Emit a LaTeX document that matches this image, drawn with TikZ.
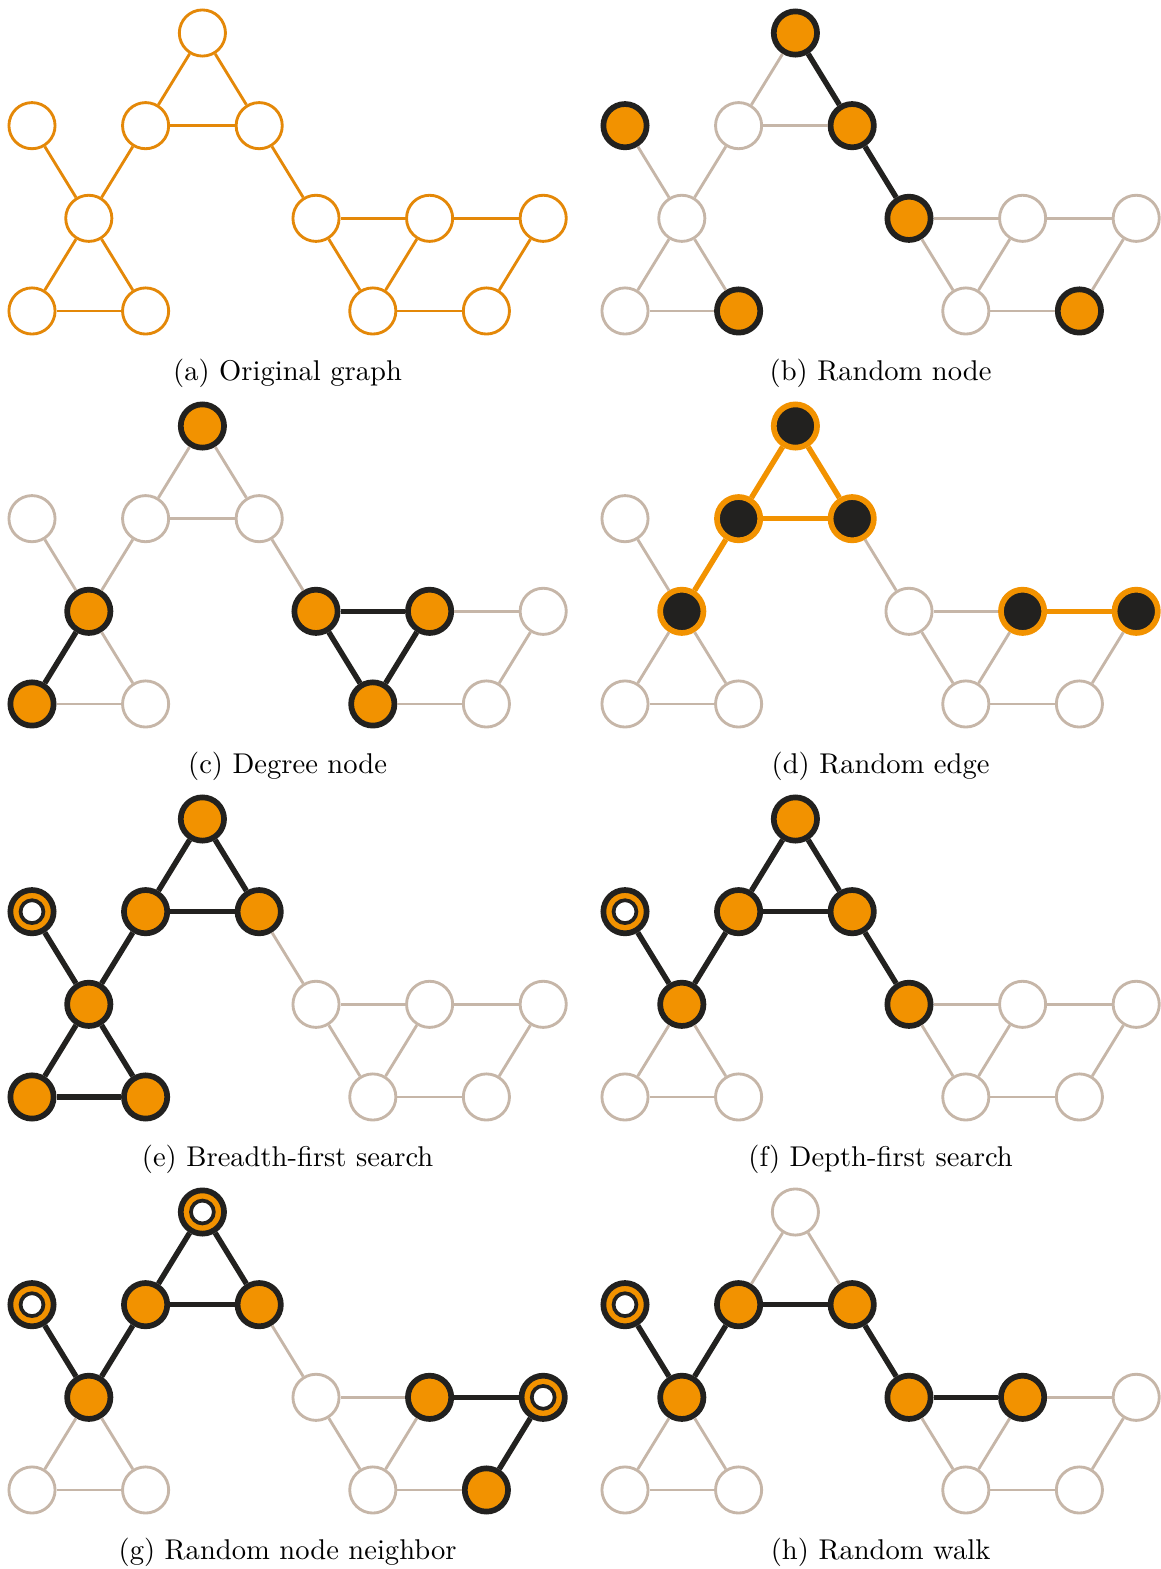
\documentclass[tikz,border=0pt]{standalone}
\usepackage{tikz}
\usetikzlibrary{positioning,calc}

\definecolor{graphorange}{RGB}{242,146,0}
\definecolor{origorange}{RGB}{228,136,8}
\definecolor{graphpale}{RGB}{198,182,168}
\definecolor{graphink}{RGB}{34,33,31}

% the sample graph: 12 vertices, 15 links; #1 = prefix of the node names
\newcommand{\samplegraph}[1]{%
  \foreach \i/\x/\y in {1/3/0, 2/0/1, 3/2/1, 4/4/1, 5/1/2, 6/5/2, 7/7/2, 8/9/2,
                        9/0/3, 10/2/3, 11/6/3, 12/8/3}
    \node[vbase, v\i/.try] (#1\i) at (\x,\y) {};
  \foreach \a/\b in {1/3, 1/4, 3/4, 2/5, 3/5, 5/9, 5/10, 9/10,
                     4/6, 6/7, 7/8, 6/11, 7/11, 11/12, 8/12}
    \draw[ebase, e\a.\b/.try] (#1\a) -- (#1\b);
}

\begin{document}
\begin{tikzpicture}[x=19.88pt, y=-32.43pt,
    vtx/.style={circle, inner sep=0pt},
    plainvtx/.style={vtx, draw=graphpale, fill=white, line width=1pt, minimum size=16.15pt},
    origvtx/.style={vtx, draw=origorange, fill=white, line width=1pt, minimum size=16.15pt},
    pickvtx/.style={vtx, draw=graphink, fill=graphorange, line width=2pt, minimum size=15.15pt},
    pairvtx/.style={vtx, draw=graphorange, fill=graphink, line width=2pt, minimum size=15.15pt},
    startvtx/.style={pickvtx, path picture={\draw[graphink, line width=1.3pt, fill=white]
        (path picture bounding box.center) circle (4pt);}},
    plainlink/.style={graphpale, line width=1pt},
    origlink/.style={origorange, line width=1pt},
    picklink/.style={graphink, line width=1.9pt},
    pairlink/.style={graphorange, line width=1.9pt},
    vbase/.style=plainvtx, ebase/.style=plainlink,
    pick/.style={v#1/.style=pickvtx}, start/.style={v#1/.style=startvtx},
    pair/.style={v#1/.style=pairvtx},
    bold/.style={e#1/.style=picklink}, pairedge/.style={e#1/.style=pairlink},
    caption/.style={anchor=base}]
  \useasboundingbox (0pt,0pt) rectangle (406.35pt,-549.15pt);

  % (a) Original graph
  \begin{scope}[shift={(11.2pt,-11.55pt)}, vbase/.style=origvtx, ebase/.style=origlink]
    \samplegraph{a}
    \node[caption] (cap-a) at (4.5,3.745) {(a) Original graph};
  \end{scope}

  % (b) Random node
  \begin{scope}[shift={(218.75pt,-11.55pt)}, pick=1, pick=2, pick=4, pick=6, pick=10, pick=12,
      bold=1.4, bold=4.6]
    \samplegraph{b}
    \node[caption] (cap-b) at (4.5,3.745) {(b) Random node};
  \end{scope}

  % (c) Degree node
  \begin{scope}[shift={(11.2pt,-149.1pt)}, pick=1, pick=5, pick=9, pick=6, pick=7, pick=11,
      bold=5.9, bold=6.7, bold=6.11, bold=7.11]
    \samplegraph{c}
    \node[caption] (cap-c) at (4.5,3.745) {(c) Degree node};
  \end{scope}

  % (d) Random edge
  \begin{scope}[shift={(218.75pt,-149.1pt)}, pair=1, pair=3, pair=4, pair=5, pair=7, pair=8,
      pairedge=1.3, pairedge=1.4, pairedge=3.4, pairedge=3.5, pairedge=7.8]
    \samplegraph{d}
    \node[caption] (cap-d) at (4.5,3.745) {(d) Random edge};
  \end{scope}

  % (e) Breadth-first search
  \begin{scope}[shift={(11.2pt,-286.65pt)}, start=2, pick=1, pick=3, pick=4, pick=5, pick=9, pick=10,
      bold=1.3, bold=1.4, bold=3.4, bold=2.5, bold=3.5, bold=5.9, bold=5.10, bold=9.10]
    \samplegraph{e}
    \node[caption] (cap-e) at (4.5,3.745) {(e) Breadth-first search};
  \end{scope}

  % (f) Depth-first search
  \begin{scope}[shift={(218.75pt,-286.65pt)}, start=2, pick=1, pick=3, pick=4, pick=5, pick=6,
      bold=1.3, bold=1.4, bold=3.4, bold=2.5, bold=3.5, bold=4.6]
    \samplegraph{f}
    \node[caption] (cap-f) at (4.5,3.745) {(f) Depth-first search};
  \end{scope}

  % (g) Random node neighbor
  \begin{scope}[shift={(11.2pt,-424.2pt)}, start=1, start=2, start=8,
      pick=3, pick=4, pick=5, pick=7, pick=12,
      bold=1.3, bold=1.4, bold=3.4, bold=2.5, bold=3.5, bold=7.8, bold=8.12]
    \samplegraph{g}
    \node[caption] (cap-g) at (4.5,3.745) {(g) Random node neighbor};
  \end{scope}

  % (h) Random walk
  \begin{scope}[shift={(218.75pt,-424.2pt)}, start=2, pick=3, pick=4, pick=5, pick=6, pick=7,
      bold=2.5, bold=3.5, bold=3.4, bold=4.6, bold=6.7]
    \samplegraph{h}
    \node[caption] (cap-h) at (4.5,3.745) {(h) Random walk};
  \end{scope}
\end{tikzpicture}
\end{document}
